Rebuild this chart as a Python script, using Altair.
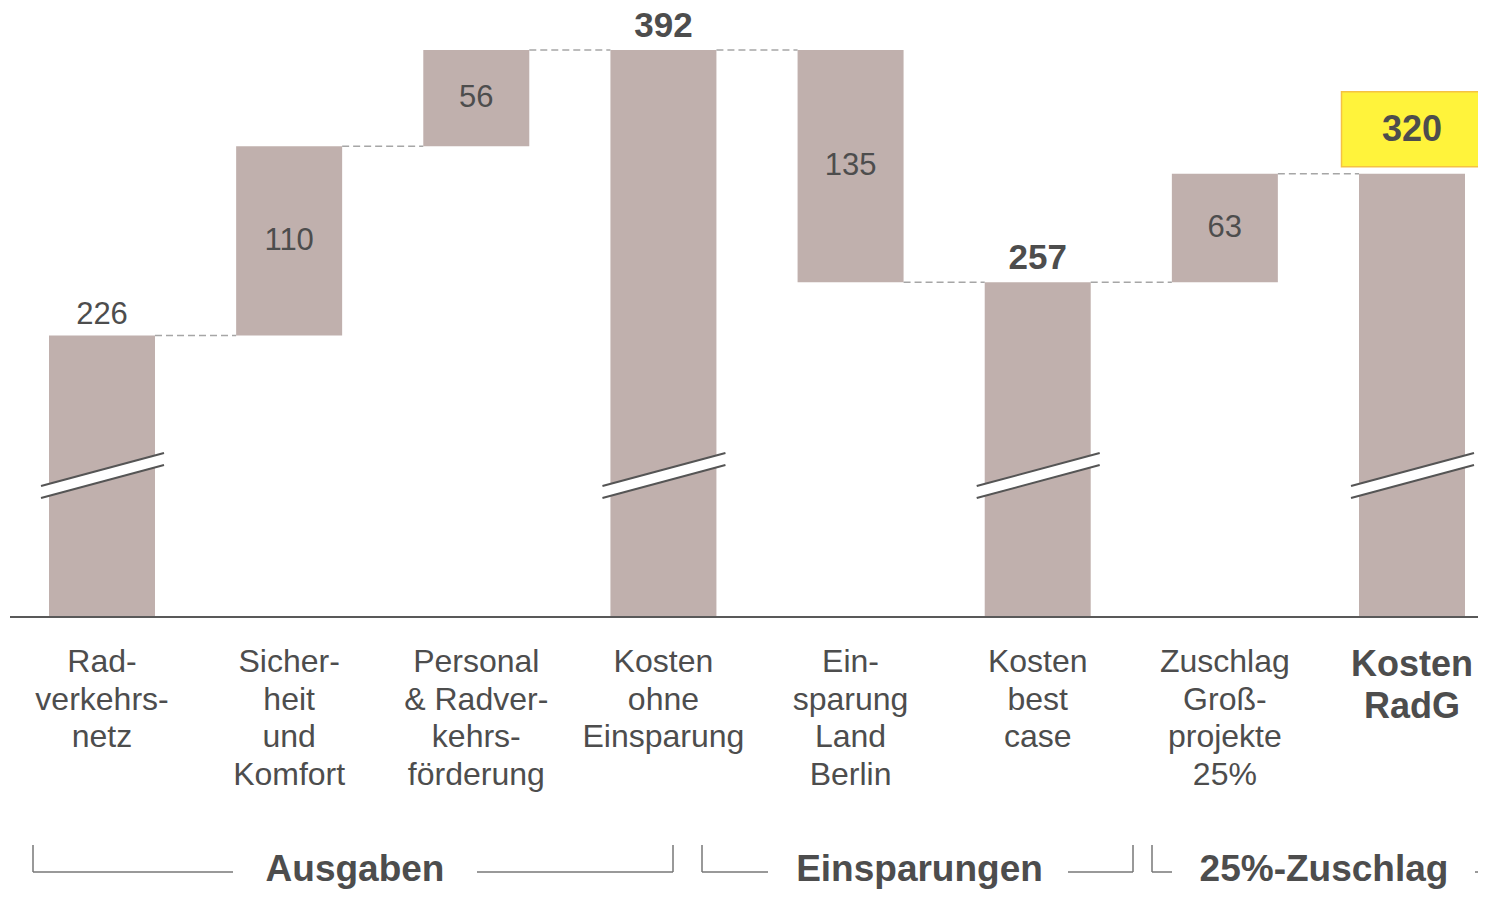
import altair as alt
import pandas as pd

# ---------------- data ----------------
categories = [
    "Rad-|verkehrs-|netz",
    "Sicher-|heit|und|Komfort",
    "Personal|& Radver-|kehrs-|förderung",
    "Kosten|ohne|Einsparung",
    "Ein-|sparung|Land|Berlin",
    "Kosten|best|case",
    "Zuschlag|Groß-|projekte|25%",
    "Kosten|RadG",
]
values = [226, 110, 56, 392, -135, 257, 63, 320]
kinds = ["start", "step", "step", "total", "step", "total", "step", "final"]
group_names = ["Ausgaben", "Einsparungen", "25%-Zuschlag"]

# ---------------- derived table ----------------
rows = []
running = 0
for cat, v, k in zip(categories, values, kinds):
    if k in ("start", "total", "final"):
        lo, hi = 0, v
        running = v
    else:
        a, b = running, running + v
        lo, hi = min(a, b), max(a, b)
        running = b
    rows.append(dict(cat=cat, lo=lo, hi=hi, mid=(lo + hi) / 2, kind=k,
                     label=str(abs(v)), level=running))
df = pd.DataFrame(rows)

conn = pd.DataFrame([
    dict(c_from=categories[i], c_to=categories[i + 1], level=rows[i]["level"])
    for i in range(len(categories) - 1)
])

BAR = "#C0B0AD"
TXT = "#4D4D4D"
FONT = "Liberation Sans"

xscale = alt.Scale(domain=categories, range=[0, 1498],
                   paddingInner=0.4336, paddingOuter=0.2191)
yscale = alt.Scale(domain=[62.3, 416.4], range=[609, 0], clamp=True)

X = alt.X("cat:N", scale=xscale, axis=None)

base = alt.Chart(df)

bars = base.mark_bar(color=BAR).encode(
    x=X,
    y=alt.Y("lo:Q", scale=yscale, axis=None),
    y2="hi:Q",
)

connectors = alt.Chart(conn).mark_rule(
    color="#A6A6A6", strokeWidth=1.5, strokeDash=[7, 4], xOffset=53, x2Offset=-53
).encode(
    x=alt.X("c_from:N", scale=xscale, axis=None),
    x2="c_to:N",
    y=alt.Y("level:Q", scale=yscale, axis=None),
)

breaks_df = df[df["kind"].isin(["start", "total", "final"])]
brk = alt.Chart(breaks_df)
break_white = brk.mark_rule(color="white", strokeWidth=11, strokeCap="butt",
                            xOffset=-61, x2Offset=62).encode(
    x=X, x2="cat:N", y=alt.value(484), y2=alt.value(451))
break_up = brk.mark_rule(color="#555555", strokeWidth=2,
                         xOffset=-61, x2Offset=62).encode(
    x=X, x2="cat:N", y=alt.value(478), y2=alt.value(445))
break_lo = brk.mark_rule(color="#555555", strokeWidth=2,
                         xOffset=-61, x2Offset=62).encode(
    x=X, x2="cat:N", y=alt.value(490), y2=alt.value(457))

mid_labels = alt.Chart(df[df["kind"] == "step"]).mark_text(
    font=FONT, fontSize=31, color=TXT, baseline="middle"
).encode(x=X, y=alt.Y("mid:Q", scale=yscale, axis=None), text="label:N")

start_labels = alt.Chart(df[df["kind"] == "start"]).mark_text(
    font=FONT, fontSize=31, color=TXT, baseline="alphabetic", dy=-11
).encode(x=X, y=alt.Y("hi:Q", scale=yscale, axis=None), text="label:N")

total_labels = alt.Chart(df[df["kind"] == "total"]).mark_text(
    font=FONT, fontSize=35, fontWeight="bold", color=TXT, baseline="alphabetic", dy=-13
).encode(x=X, y=alt.Y("hi:Q", scale=yscale, axis=None), text="label:N")

final_df = df[df["kind"] == "final"]
final_box = alt.Chart(final_df).mark_bar(
    width=141, color="#FFF33B", stroke="#F5C243", strokeWidth=1.5,
    yOffset=-7, y2Offset=-82
).encode(x=X, y=alt.Y("hi:Q", scale=yscale, axis=None), y2="hi:Q")
final_label = alt.Chart(final_df).mark_text(
    font=FONT, fontSize=36, fontWeight="bold", color=TXT, baseline="middle", dy=-44
).encode(x=X, y=alt.Y("hi:Q", scale=yscale, axis=None), text="label:N")

axis_line = alt.Chart(df).mark_rule(color="#595959", strokeWidth=2).encode(
    x=alt.value(2), x2=alt.value(1478), y=alt.value(609))

cat_labels = alt.Chart(df[df["kind"] != "final"]).transform_calculate(
    lines="split(datum.cat, '|')"
).mark_text(font=FONT, fontSize=32, color=TXT, baseline="alphabetic",
            lineHeight=37.5).encode(x=X, y=alt.value(664), text="lines:N")

final_cat = alt.Chart(final_df).transform_calculate(
    lines="split(datum.cat, '|')"
).mark_text(font=FONT, fontSize=36, fontWeight="bold", color=TXT,
            baseline="alphabetic", lineHeight=42).encode(
    x=X, y=alt.value(668), text="lines:N")

# ---------------- group brackets (annotation) ----------------
bracket_color = "#777777"
bracket_layers = []
ticks = [25, 665, 694, 1125, 1144]
for tx in ticks:
    bracket_layers.append(alt.Chart(df.head(1)).mark_rule(
        color=bracket_color, strokeWidth=1.5).encode(
        x=alt.value(tx), y=alt.value(837), y2=alt.value(864)))
hsegs = [(25, 225), (469, 665), (694, 760), (1060, 1125), (1144, 1164), (1467, 1490)]
for a, b in hsegs:
    bracket_layers.append(alt.Chart(df.head(1)).mark_rule(
        color=bracket_color, strokeWidth=1.5).encode(
        x=alt.value(a), x2=alt.value(b), y=alt.value(864)))

group_x = [347, 911.5, 1316]
group_layers = [
    alt.Chart(df.head(1)).mark_text(
        font=FONT, fontSize=37, fontWeight="bold", color=TXT, baseline="alphabetic"
    ).encode(x=alt.value(gx), y=alt.value(873), text=alt.value(name))
    for name, gx in zip(group_names, group_x)
]

chart = alt.layer(
    bars, connectors, break_white, break_up, break_lo,
    mid_labels, start_labels, total_labels, final_box, final_label,
    axis_line, cat_labels, final_cat, *bracket_layers, *group_layers
).properties(
    width=1470, height=882, padding=0,
    autosize=alt.AutoSizeParams(type="none"),
).configure_view(stroke=None)

chart.save("out.html", embed_options={"renderer": "svg", "actions": False})
